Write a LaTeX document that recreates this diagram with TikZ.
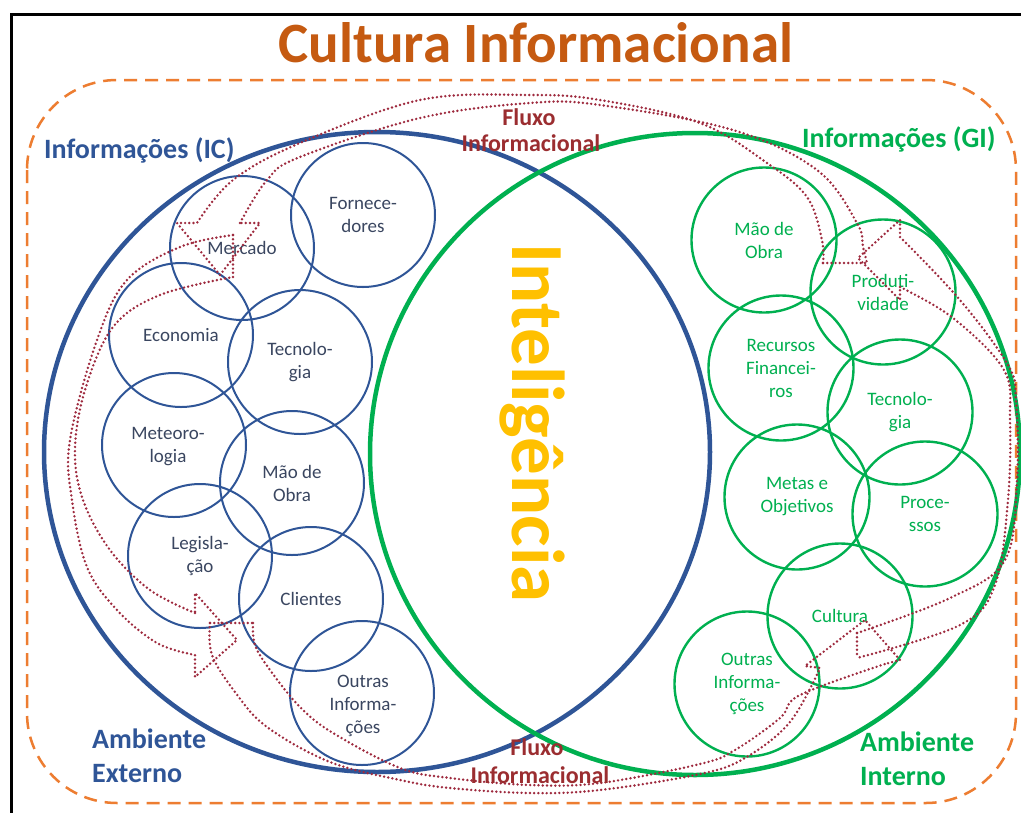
\documentclass[tikz,border=0pt]{standalone}
\usepackage{fontspec}
\setmainfont{Carlito}
\usetikzlibrary{shapes.geometric}
\definecolor{blu}{HTML}{2F5597}
\definecolor{grn}{HTML}{00B050}
\definecolor{lblb}{HTML}{3A4660}
\definecolor{flux}{HTML}{9E2A3E}
\definecolor{fluxt}{HTML}{9B2D30}
\definecolor{gold}{HTML}{FFC000}
\definecolor{ttl}{HTML}{C55A11}
\definecolor{dsh}{HTML}{ED7D31}
\tikzset{
 bigring/.style={ellipse, inner sep=0pt, line width=4.5pt},
 cB/.style={circle, draw=blu, line width=2pt, minimum size=144pt, inner sep=0pt, align=center, text=lblb, font=\fontsize{19}{23}\selectfont},
 cG/.style={circle, draw=grn, line width=2.4pt, minimum size=145pt, inner sep=0pt, align=center, text=grn, font=\fontsize{19}{23}\selectfont},
 lbl/.style={inner sep=0pt, align=center, font=\fontsize{19}{23}\selectfont},
 bigtxt/.style={inner sep=0pt, anchor=base west, font=\fontsize{28}{33}\bfseries},
 fluxtxt/.style={inner sep=0pt, anchor=base, text=fluxt, font=\fontsize{24}{28}\bfseries},
 dots/.style={draw=flux, line width=2.7pt, dash pattern=on 0pt off 4.2pt, line cap=round, line join=round},
}
\begin{document}
\begin{tikzpicture}[x=1pt,y=-1pt]
\useasboundingbox (0,0) rectangle (1021,812);
\fill[white] (0,0) rectangle (1021,812);
% frame
\draw[black, line width=3pt] (11,830) -- (11,14) -- (1040,14);
% dashed rounded frame
\draw[dsh, line width=2.5pt, dash pattern=on 13pt off 8pt, rounded corners=90pt] (27,80) rectangle (1016,803);
% title
\node[inner sep=0pt, anchor=base, text=ttl, font=\fontsize{57}{60}\bfseries] (title) at (536,62) {Cultura Informacional};
% big rings
\node[bigring, draw=blu, minimum width=666pt, minimum height=640pt] (ic) at (377,452) {};
\node[bigring, draw=grn, minimum width=650pt, minimum height=642pt] (gi) at (695,454) {};
% small blue circles
\node[cB] (merc) at (242,248) {Mercado};
\node[cB] (forn) at (363,215) {Fornece-\\dores};
\node[cB] (econ) at (181,335) {Economia};
\node[cB] (tecic) at (300,362) {Tecnolo-\\gia};
\node[cB] (meteo) at (174,445) {};
\node[lbl, text=lblb] (meteol) at (168,447) {Meteoro-\\logia};
\node[cB] (maoic) at (292,483) {Mão de\\Obra};
\node[cB] (legis) at (200,556) {Legisla-\\ção};
\node[cB] (cli) at (311,599) {Clientes};
\node[cB] (outic) at (362,693) {};
\node[lbl, text=lblb] (outicl) at (363,706) {Outras\\Informa-\\ções};
% small green circles
\node[cG] (maogi) at (764,240) {Mão de\\Obra};
\node[cG] (prod) at (883,292) {Produti-\\vidade};
\node[cG] (recur) at (781,368) {Recursos\\Financei-\\ros};
\node[cG] (tecgi) at (900,412) {Tecnolo-\\gia};
\node[cG] (metas) at (797,497) {Metas e\\Objetivos};
\node[cG] (proc) at (925,514) {Proce-\\ssos};
\node[cG] (cult) at (840,616) {Cultura};
\node[cG] (outgi) at (747,684) {Outras\\Informa-\\ções};
% dotted flow arrows
% left arrow (tail at Mercado, head at Legislacao)
\draw[dots] (233,235) -- (233,277);
\draw[dots] plot[smooth, tension=0.6] coordinates {(233,235) (180,247) (127,280) (97,340) (70,440) (72,500) (87,567) (117,610) (157,643) (195,655)}
  -- (195,677) -- (237,640) -- (195,593) -- (195,613);
\draw[dots] plot[smooth, tension=0.6] coordinates {(195,613) (150,590) (110,550) (83,500) (75,450) (85,390) (113,327) (160,295) (233,277)};
% bottom arrow (tail at Legislacao, head at Cultura)
\draw[dots] (210,623) -- (253,623);
\draw[dots] plot[smooth, tension=0.6] coordinates {(210,623) (212,655) (235,692) (267,727) (330,762) (400,780) (450,788) (530,793) (600,790) (700,774) (745,758) (790,722) (820,668)}
  -- (805,666) -- (865,620) -- (900,660) -- (885,664);
\draw[dots] plot[smooth, tension=0.6] coordinates {(253,623) (255,645) (270,670) (300,707) (333,733) (400,768) (450,778) (530,785) (600,783) (700,764) (735,750) (780,718) (800,695) (885,664)};
% right arrow (tail at Cultura, head at Produtividade)
\draw[dots] (857,633) -- (857,658);
\draw[dots] plot[smooth, tension=0.6] coordinates {(857,633) (950,598) (1005,560) (1017,480) (1016,400) (1008,365) (960,300) (900,237)}
  -- (900,220) -- (858,258) -- (900,300) -- (900,287);
\draw[dots] plot[smooth, tension=0.6] coordinates {(900,287) (953,318) (1004,370) (1010,420) (1008,500) (995,585) (960,625) (857,658)};
% top arrow (tail at Produtividade, head at Mercado)
\draw[dots] (823,263) -- (867,263);
\draw[dots] plot[smooth, tension=0.6] coordinates {(823,263) (822,240) (807,197) (767,163) (700,123) (600,100) (530,95) (420,100) (300,143) (233,180) (197,223)}
  -- (177,223) -- (220,275) -- (260,223) -- (240,223);
\draw[dots] plot[smooth, tension=0.6] coordinates {(240,223) (267,180) (300,157) (420,118) (530,103) (600,105) (733,130) (817,170) (857,223) (863,247) (867,263)};
% big labels
\node[bigtxt, text=blu] (icl) at (44,158) {Informações (IC)};
\node[bigtxt, text=grn] (gil) at (802,147) {Informações (GI)};
\node[bigtxt, text=blu] (ae1) at (92,748) {Ambiente};
\node[bigtxt, text=blu] (ae2) at (92,782) {Externo};
\node[bigtxt, text=grn] (ai1) at (860,751) {Ambiente};
\node[bigtxt, text=grn] (ai2) at (860,785) {Interno};
\node[fluxtxt] (ft1) at (529,125) {Fluxo};
\node[fluxtxt] (ft2) at (531,151) {Informacional};
\node[fluxtxt] (fb1) at (537,755) {Fluxo};
\node[fluxtxt] (fb2) at (540,783) {Informacional};
\node[inner sep=0pt, anchor=base, rotate=-90, text=gold, font=\fontsize{75}{80}\bfseries] (intel) at (512,423) {Inteligência};
\end{tikzpicture}
\end{document}
